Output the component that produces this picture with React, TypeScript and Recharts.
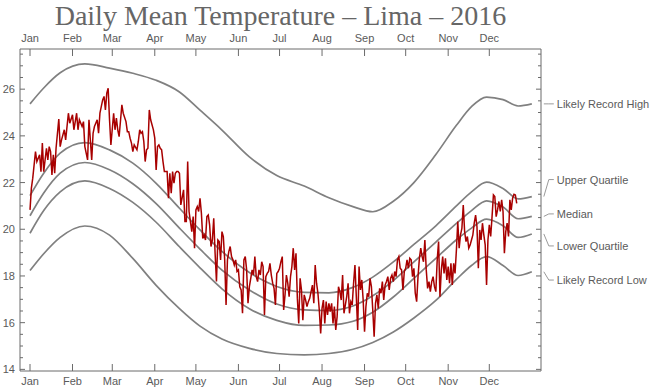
import { LineChart, Line, XAxis, YAxis } from 'recharts';

// 2016 is a leap year: day 0 = Jan 1
const monthStarts = [0, 31, 60, 91, 121, 152, 182, 213, 244, 274, 305, 335];
const monthNames = ['Jan', 'Feb', 'Mar', 'Apr', 'May', 'Jun', 'Jul', 'Aug', 'Sep', 'Oct', 'Nov', 'Dec'];
const tempTicks = [
  14, 14.5, 15, 15.5, 16, 16.5, 17, 17.5, 18, 18.5, 19, 19.5, 20, 20.5,
  21, 21.5, 22, 22.5, 23, 23.5, 24, 24.5, 25, 25.5, 26, 26.5, 27, 27.5,
];

// climatology curves, sampled at these days
const knotDays = [0, 10, 22, 40, 58, 75, 92, 109, 124, 140, 160, 180, 200, 218, 235, 250, 265, 280, 296, 311, 322, 333, 345, 356, 366];
const recordHigh = [25.37, 26.05, 26.7, 27.08, 26.9, 26.68, 26.38, 25.88, 25.1, 24.25, 23.1, 22.3, 21.85, 21.35, 20.98, 20.75, 21.2, 22.0, 23.2, 24.45, 25.25, 25.66, 25.55, 25.28, 25.37];
const upperQuartile = [21.44, 22.4, 23.26, 23.71, 23.4, 22.83, 21.97, 20.9, 19.97, 19.05, 18.15, 17.55, 17.3, 17.28, 17.5, 17.95, 18.6, 19.35, 20.15, 21.0, 21.6, 22.02, 21.75, 21.3, 21.4];
const medianTemp = [20.58, 21.55, 22.4, 22.86, 22.55, 21.95, 21.1, 20.05, 19.15, 18.25, 17.4, 16.8, 16.55, 16.52, 16.7, 17.15, 17.8, 18.6, 19.45, 20.25, 20.8, 21.22, 20.95, 20.45, 20.55];
const lowerQuartile = [19.83, 20.8, 21.6, 22.07, 21.75, 21.15, 20.3, 19.25, 18.35, 17.45, 16.6, 16.1, 15.88, 15.9, 16.05, 16.45, 17.1, 17.9, 18.75, 19.55, 20.05, 20.43, 20.15, 19.65, 19.8];
const recordLow = [18.23, 18.95, 19.65, 20.14, 19.75, 18.75, 17.6, 16.6, 15.85, 15.3, 14.9, 14.68, 14.62, 14.68, 14.85, 15.15, 15.6, 16.2, 16.95, 17.85, 18.45, 18.83, 18.45, 18.02, 18.18];

const curveNames = ['Likely Record High', 'Upper Quartile', 'Median', 'Lower Quartile', 'Likely Record Low'];
const curveValues = [recordHigh, upperQuartile, medianTemp, lowerQuartile, recordLow];

// observed daily mean, [day, °C]
const dailyMean: [number, number][] = [
  [0, 20.83], [1, 21.76], [2, 22.19], [4, 23.33], [5, 22.9], [7, 23.19], [8, 22.47], [9, 23.69], [10, 22.47], [12, 23.47],
  [13, 22.97], [14, 23.54], [15, 23.33], [16, 22.33], [17, 23.19], [18, 22.4], [19, 23.47], [21, 24.72], [22, 23.54], [23, 23.83],
  [25, 24.26], [26, 23.83], [27, 24.4], [28, 24.97], [29, 24.54], [31, 24.9], [32, 24.26], [33, 24.61], [34, 24.97], [35, 24.26],
  [36, 24.69], [38, 24.4], [39, 24.61], [40, 23.54], [42, 22.97], [43, 24.69], [45, 22.97], [46, 24.11], [47, 24.4], [49, 24.69],
  [50, 24.11], [51, 24.97], [53, 25.54], [54, 25.69], [55, 25.11], [56, 25.83], [57, 26.04],
  [58, 24.69], [59, 23.61], [61, 24.97], [62, 24.26], [63, 24.76], [64, 24.26], [65, 23.97], [67, 25.33], [68, 24.97], [70, 24.61],
  [71, 24.18], [72, 24.18], [73, 23.9], [74, 23.69], [75, 23.33], [76, 23.61], [78, 23.4], [79, 23.76], [80, 24.26], [81, 24.11],
  [82, 24.18], [83, 23.76], [84, 22.9], [85, 23.4], [86, 23.47], [87, 25.11], [88, 24.69], [90, 24.26], [91, 23.9], [92, 22.54],
  [93, 23.54], [94, 23.61], [95, 23.47], [96, 23.4], [97, 22.9], [98, 22.47], [100, 22.47], [101, 21.33], [102, 22.4], [103, 21.54],
  [104, 22.47], [105, 21.97], [106, 22.4], [107, 22.47], [108, 22.47], [109, 22.4], [110, 21.04], [112, 21.69], [113, 20.33], [114, 20.33],
  [115, 22.9], [116, 20.76],
  [118, 19.9], [119, 20.54], [120, 19.19], [121, 20.83], [122, 20.97], [123, 20.76], [124, 21.33], [125, 20.69], [126, 19.61], [127, 19.76],
  [128, 19.54], [129, 20.54], [130, 20.61], [131, 20.19], [132, 19.26], [133, 19.54], [134, 20.47], [135, 18.97], [136, 17.76], [137, 19.54],
  [138, 19.47], [139, 18.69], [140, 19.9], [141, 19.69], [142, 18.69], [143, 16.76], [144, 18.69], [145, 19.04], [146, 19.26], [147, 18.83],
  [148, 18.69], [149, 18.47], [150, 18.69], [151, 18.19], [152, 18.26], [153, 17.54], [154, 17.4], [155, 16.4], [156, 18.69], [157, 18.83],
  [158, 18.26], [159, 16.83], [160, 17.54], [161, 17.9], [162, 18.26], [163, 18.04], [164, 18.83], [165, 17.97], [166, 17.76], [167, 18.26],
  [168, 18.04], [169, 18.61], [170, 18.4], [171, 16.33], [172, 17.97], [173, 18.11], [174, 18.19], [175, 18.54], [176, 18.04], [177, 17.69],
  [178, 17.47], [179, 16.76], [180, 18.11], [181, 18.19], [182, 18.33], [183, 18.61], [184, 18.83], [185, 16.54], [186, 17.19], [187, 18.04],
  [188, 17.69], [189, 17.11], [190, 17.97], [191, 18.4], [192, 19.19], [193, 18.26], [194, 18.97], [195, 17.04], [196, 15.97], [197, 17.9],
  [198, 17.4], [199, 16.11], [200, 17.19], [201, 16.97], [202, 16.69], [203, 16.9], [204, 17.04], [205, 17.33], [206, 17.61], [207, 16.83],
  [208, 18.47], [209, 17.69], [210, 17.26], [211, 16.54], [212, 15.54], [213, 16.61], [214, 16.97], [215, 15.97], [216, 16.9], [217, 16.33],
  [218, 16.83], [219, 16.47], [220, 16.83], [221, 15.97], [222, 16.69], [223, 15.69], [224, 16.26], [225, 17.54], [226, 17.33], [227, 16.97],
  [228, 18.04], [229, 16.4], [230, 16.76], [231, 17.11], [232, 17.69], [233, 16.4], [234, 16.9], [235, 16.76], [236, 17.69],
  [237, 18.47], [238, 17.11], [239, 15.69], [240, 18.4], [241, 17.4], [242, 17.83], [243, 16.97], [244, 15.61], [245, 16.69], [246, 17.26],
  [247, 17.11], [248, 17.9], [249, 17.54], [250, 16.54], [251, 15.4], [252, 16.83], [253, 17.19], [254, 16.61], [255, 17.47], [256, 17.26],
  [257, 17.76], [258, 16.97], [259, 17.61], [260, 17.76], [261, 17.97], [262, 17.4], [263, 17.9], [264, 18.04], [265, 17.76], [266, 18.19],
  [267, 17.97], [268, 18.69], [269, 18.83], [270, 18.33], [271, 18.26], [272, 17.4], [273, 18.19], [274, 18.33], [275, 18.69], [276, 18.33],
  [277, 18.76], [278, 18.69], [279, 17.97], [280, 18.33], [281, 17.26], [282, 16.9], [283, 17.97], [284, 18.76], [285, 19.19], [286, 18.83],
  [287, 18.61], [288, 19.54], [289, 18.26], [290, 17.47], [291, 17.76], [292, 17.33], [293, 17.76], [294, 17.97], [295, 17.54], [296, 17.33],
  [297, 18.69], [298, 19.47], [299, 17.11], [300, 18.26], [301, 18.83], [302, 18.11], [303, 18.76], [304, 17.83], [305, 18.4], [306, 17.69],
  [307, 18.54], [308, 17.61], [309, 18.54], [310, 18.11], [311, 19.11], [312, 20.33], [313, 19.19], [314, 19.76], [315, 20.04], [316, 21.04],
  [317, 19.9], [318, 19.47], [319, 19.69], [320, 19.19], [321, 19.33], [322, 19.54], [323, 19.76], [324, 20.26], [325, 20.61], [326, 20.11],
  [327, 18.33], [328, 19.97], [329, 19.54], [330, 20.26], [331, 19.76], [332, 19.33], [333, 17.61], [334, 19.54], [335, 20.19], [336, 19.69],
  [337, 20.54], [338, 21.47], [339, 21.4], [340, 20.54], [341, 20.83], [342, 21.19], [343, 20.76], [344, 21.26], [345, 20.76], [346, 18.97],
  [347, 19.9], [348, 20.26], [349, 19.69], [350, 21.26], [351, 20.83], [352, 21.33], [353, 21.5], [354, 21.47], [355, 21.11],
];

const FRAME = '#6b6b6b';
const TEXT = '#5a5a5a';
const SANS = '"Liberation Sans", Arial, sans-serif';

// vertical nudge of each end label relative to its curve end (layout only)
const labelShift = [0, -17, -2.5, 12, 8.3];

const monthLabel = (day: number) => monthNames[monthStarts.indexOf(day)] ?? '';

function BottomTick(props: any) {
  const { x, y, payload } = props;
  return (
    <g>
      <line x1={x} y1={y} x2={x} y2={y - 7} stroke={FRAME} />
      <text x={x} y={y + 14} textAnchor="middle" fontSize={11} fontFamily={SANS} fill={TEXT}>
        {monthLabel(payload.value)}
      </text>
    </g>
  );
}

function TopTick(props: any) {
  const { x, y, payload } = props;
  return (
    <g>
      <line x1={x} y1={y} x2={x} y2={y + 7} stroke={FRAME} />
      <text x={x} y={y - 7} textAnchor="middle" fontSize={11} fontFamily={SANS} fill={TEXT}>
        {monthLabel(payload.value)}
      </text>
    </g>
  );
}

function LeftTick(props: any) {
  const { x, y, payload } = props;
  const major = payload.value % 2 === 0;
  return (
    <g>
      <line x1={x} y1={y} x2={x + (major ? 5 : 3)} y2={y} stroke={FRAME} />
      {major && (
        <text x={x - 5} y={y + 4} textAnchor="end" fontSize={11} fontFamily={SANS} fill={TEXT}>
          {payload.value}
        </text>
      )}
    </g>
  );
}

function RightTick(props: any) {
  const { x, y, payload } = props;
  const major = payload.value % 2 === 0;
  return <line x1={x} y1={y} x2={x - (major ? 5 : 3)} y2={y} stroke={FRAME} />;
}

function endLabel(text: string, shift: number) {
  return (props: any) => {
    const x = props.x ?? props.viewBox?.x;
    const y = props.y ?? props.viewBox?.y;
    if (props.index !== knotDays.length - 1 || x == null || y == null) return <g />;
    const ly = y + shift;
    return (
      <g>
        <polyline
          points={`${x + 12},${y} ${x + 17},${ly} ${x + 22},${ly}`}
          fill="none"
          stroke="#9a9a9a"
          strokeWidth={1}
        />
        <text x={x + 25} y={ly + 4} fontSize={11} fontFamily={SANS} fill={TEXT}>
          {text}
        </text>
      </g>
    );
  };
}

export default function App() {
  const curves = curveValues.map((vals) => knotDays.map((day, i) => ({ day, value: vals[i] })));
  const observed = dailyMean.map(([day, temp]) => ({ day, temp }));

  return (
    <div style={{ position: 'absolute', left: 0, top: 0, width: 659, height: 390, background: '#fff' }}>
      <div
        style={{
          position: 'absolute',
          left: 0,
          top: 0,
          width: 561,
          textAlign: 'center',
          fontFamily: '"Liberation Serif", "Times New Roman", serif',
          fontSize: 28,
          lineHeight: '32px',
          color: '#666',
          whiteSpace: 'nowrap',
        }}
      >
        Daily Mean Temperature – Lima – 2016
      </div>
      <LineChart width={659} height={390} margin={{ top: 29, right: 117, bottom: 0, left: 0 }}>
        <XAxis
          xAxisId="bottom"
          dataKey="day"
          type="number"
          orientation="bottom"
          domain={[-7.3, 372.7]}
          allowDataOverflow
          ticks={monthStarts}
          interval={0}
          height={19}
          tickSize={0}
          tickMargin={0}
          axisLine={{ stroke: FRAME }}
          tickLine={false}
          tick={<BottomTick />}
        />
        <XAxis
          xAxisId="top"
          dataKey="day"
          type="number"
          orientation="top"
          domain={[-7.3, 372.7]}
          allowDataOverflow
          ticks={monthStarts}
          interval={0}
          height={20}
          tickSize={0}
          tickMargin={0}
          axisLine={{ stroke: FRAME }}
          tickLine={false}
          tick={<TopTick />}
        />
        <YAxis
          yAxisId="left"
          type="number"
          orientation="left"
          domain={[13.93, 27.72]}
          allowDataOverflow
          ticks={tempTicks}
          interval={0}
          width={20}
          tickSize={0}
          tickMargin={0}
          axisLine={{ stroke: FRAME }}
          tickLine={false}
          tick={<LeftTick />}
        />
        <YAxis
          yAxisId="right"
          type="number"
          orientation="right"
          domain={[13.93, 27.72]}
          allowDataOverflow
          ticks={tempTicks}
          interval={0}
          width={1}
          tickSize={0}
          tickMargin={0}
          axisLine={{ stroke: FRAME }}
          tickLine={false}
          tick={<RightTick />}
        />
        {curves.map((data, i) => (
          <Line
            key={curveNames[i]}
            xAxisId="bottom"
            yAxisId="left"
            data={data}
            dataKey="value"
            type="monotone"
            stroke="#808080"
            strokeWidth={1.7}
            dot={false}
            activeDot={false}
            isAnimationActive={false}
            label={endLabel(curveNames[i], labelShift[i])}
          />
        ))}
        <Line
          xAxisId="bottom"
          yAxisId="left"
          data={observed}
          dataKey="temp"
          type="linear"
          stroke="#a80000"
          strokeWidth={1.5}
          dot={false}
          activeDot={false}
          isAnimationActive={false}
        />
      </LineChart>
    </div>
  );
}
